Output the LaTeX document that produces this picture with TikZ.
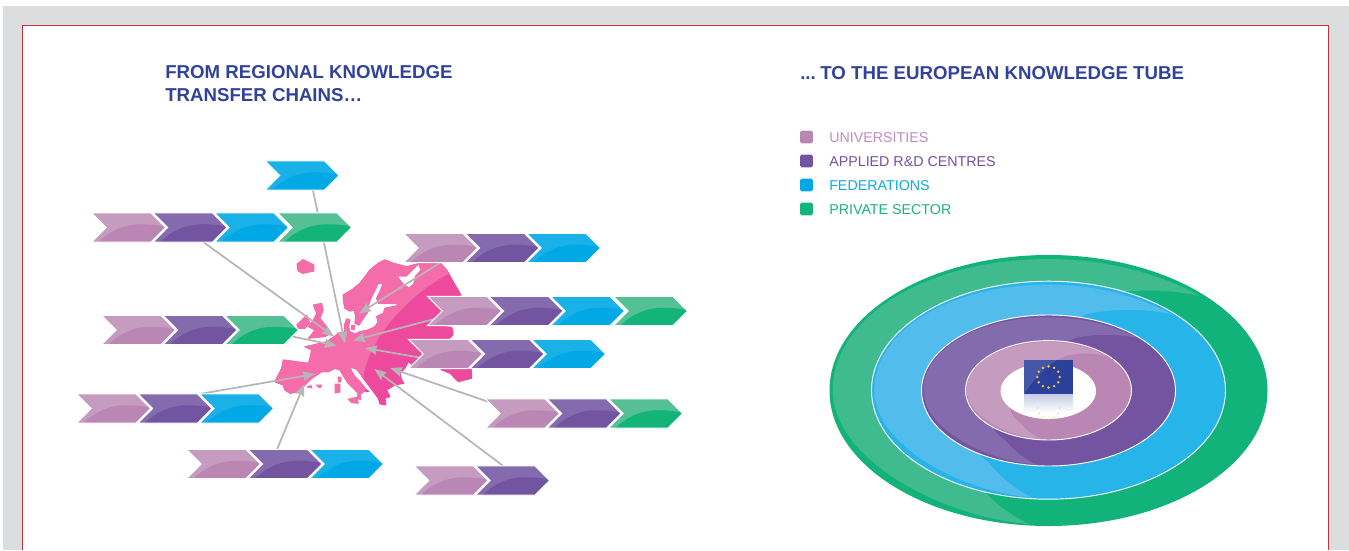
\documentclass[tikz,border=0pt]{standalone}
\usepackage{fontspec}
\setmainfont{Liberation Sans}
\usetikzlibrary{shapes.symbols,shapes.geometric,arrows.meta}
\definecolor{panelgrey}{HTML}{DCDDDF}
\definecolor{framered}{HTML}{C8323F}
\definecolor{titleblue}{HTML}{30429A}
\definecolor{pU}{HTML}{BA86B3}\definecolor{lU}{HTML}{C59CC0}
\definecolor{pA}{HTML}{7254A1}\definecolor{lA}{HTML}{846BAE}
\definecolor{pF}{HTML}{00A8E6}\definecolor{lF}{HTML}{19B1E8}
\definecolor{pP}{HTML}{12B47A}\definecolor{lP}{HTML}{55BF96}
\definecolor{rF}{HTML}{27B4E9}\definecolor{rFl}{HTML}{52BCEC}
\definecolor{rP}{HTML}{12B37B}\definecolor{rPl}{HTML}{40BB90}
\definecolor{mapL}{HTML}{F46CA9}\definecolor{mapD}{HTML}{EE4A9D}
\definecolor{arrowgrey}{HTML}{B6B6B6}
\definecolor{txtU}{HTML}{C08EBC}\definecolor{txtA}{HTML}{7452A0}
\definecolor{txtF}{HTML}{0CABE3}\definecolor{txtP}{HTML}{1CB37F}
\definecolor{flagblue}{HTML}{2B409B}\definecolor{flaglight}{HTML}{4356A7}
\definecolor{flagfade}{HTML}{C9CCE5}
\definecolor{gold}{HTML}{F1C13B}
\pgfdeclarelayer{back}\pgfdeclarelayer{conn}
\pgfsetlayers{back,conn,main}
\tikzset{
  chev/.style n args={2}{signal, signal to=east, signal from=west,
    minimum width=55.5pt, minimum height=21.9pt, inner sep=0pt, outer sep=0pt,
    fill=#2, draw=white, line width=.7pt,
    path picture={
      \coordinate (o) at (path picture bounding box.north west);
      \fill[#1] ([xshift=4pt,yshift=-23pt]o)
        .. controls ([xshift=14pt,yshift=-13pt]o) and ([xshift=25pt,yshift=-8.5pt]o) .. ([xshift=37.5pt,yshift=-8.5pt]o)
        .. controls ([xshift=43.5pt,yshift=-8.5pt]o) and ([xshift=49.5pt,yshift=-9pt]o) .. ([xshift=56pt,yshift=-10.5pt]o)
        -- ([xshift=56pt,yshift=-23pt]o) -- cycle;
    }},
  chevU/.style={chev={pU}{lU}}, chevA/.style={chev={pA}{lA}},
  chevF/.style={chev={pF}{lF}}, chevP/.style={chev={pP}{lP}},
  link/.style={draw=arrowgrey, line width=1.3pt, -{Stealth[length=9pt,width=7pt,inset=1pt]}},
  swatch/.style={rounded corners=1.2pt, minimum size=9.6pt, inner sep=0pt},
  legendtxt/.style={anchor=west, inner sep=0pt, font=\fontsize{10.7}{13}\selectfont},
  heading/.style={anchor=west, inner sep=0pt, align=left, text=titleblue,
    font=\fontsize{14}{17.25}\selectfont\bfseries},
  ringedge/.style={draw=white, line width=.7pt},
  land/.style={fill=#1, draw=#1, line width=.7pt, line join=round}
}
\newcommand{\crescentpath}{(.69,-.70) .. controls (.50,-.76) and (.35,-.74) .. (.22,-.70)
  .. controls (-.35,-.3) and (-.65,.30) .. (-.34,.66)
  .. controls (-.28,.78) and (-.20,.90) .. (-.09,.985)
  .. controls (-.5,.93) and (-.985,.5) .. (-.985,0)
  .. controls (-.985,-.55) and (-.55,-.97) .. (0,-.97)
  .. controls (.25,-.97) and (.5,-.87) .. (.69,-.70) -- cycle}
\newcommand{\ringdisc}[6]{% cx cy rx ry base light
  \fill[#5] (#1,#2) ellipse[x radius=#3, y radius=#4];
  \begin{scope}[shift={(#1,#2)}, xscale=#3, yscale=#4]
    \fill[#6] \crescentpath;
  \end{scope}}
\newcommand{\threechain}[6]{% name x y types
  \node[chev#6] (#1c) at (#2+123+36.5,#3) {};
  \node[chev#5] (#1b) at (#2+61.5+36.5,#3) {};
  \node[chev#4] (#1a) at (#2+36.5,#3) {};}
\newcommand{\mainland}{(343.3,300) -- (343.3,295) -- (351.7,290) -- (360,283.3) -- (365,276.7) -- (370,270) -- (378.3,263.3) -- (385,260) -- (393.3,263.3) -- (406.7,266.7) -- (425,262) -- (440,262.7) -- (446.7,270) -- (453.3,281.7) -- (461,295) -- (445,300) -- (440,326) -- (451.7,327.3) -- (453,331) -- (453,335) -- (450,338) -- (440,342) -- (440,368) -- (441.7,370) -- (450,373.3) -- (458.3,381.7) -- (471.7,378.3) -- (471.7,369) -- (430,367.5) -- (415,367) -- (408.3,361.7) -- (405,368.3) -- (400,373.3) -- (401.7,380) -- (404,383.3) -- (395,385) -- (386.7,390) -- (390,396.7) -- (385,398.3) -- (386,405) -- (380,404) -- (378.3,398.3) -- (373.3,391.7) -- (368.3,385) -- (363.3,378.3) -- (360,373.3) -- (356.7,369.3) -- (350,366.7) -- (351.7,371.7) -- (355,376.7) -- (360,381.7) -- (365,388.3) -- (369,391.7) -- (363.3,391.7) -- (360,395) -- (360.7,399.3) -- (357.3,398.3) -- (358.3,393.3) -- (353.3,388.3) -- (348.3,383.3) -- (345,378.3) -- (340,370) -- (335,368.3) -- (328.3,371.7) -- (321.7,371.7) -- (311.7,378.3) -- (305,385) -- (298.3,391.7) -- (290,393.3) -- (285,390) -- (283.3,385) -- (275,381.7) -- (281.7,368.3) -- (283.3,360) -- (308.3,363.3) -- (310,358.3) -- (311.7,350) -- (305,346.7) -- (313.3,345) -- (326.7,341.7) -- (335,336) -- (338.3,333.3) -- (345,331.7) -- (344.5,325) -- (346.7,319) -- (350,320) -- (348.5,326.7) -- (350,332) -- (355,334) -- (360,331.7) -- (368.3,330) -- (375,326.7) -- (378.3,321.7) -- (376.7,316.7) -- (383.3,313.3) -- (385,308.3) -- (397.7,305.7) -- (396.7,303.3) -- (378.3,303.3) -- (376.7,298.3) -- (380,291.7) -- (383.3,283.3) -- (378.3,283.3) -- (375,290) -- (371.7,296.7) -- (368.3,305) -- (368.3,311) -- (363.3,318.3) -- (359,325) -- (355,323.3) -- (355.7,316.7) -- (354.3,310) -- (350,311) -- (345,308.3) -- cycle}
\begin{document}
\begin{tikzpicture}[x=.75pt,y=-.75pt]
\useasboundingbox (0,0) rectangle (1349,550);
\begin{pgfonlayer}{back}
  \fill[white] (0,0) rectangle (1349,550);
  \fill[panelgrey] (3,6) rectangle (1349,550);
  \fill[white] (22.6,25.6) rectangle (1328.4,550);
  \draw[framered,line width=.9pt] (22.6,550) -- (22.6,25.6) -- (1328.4,25.6) -- (1328.4,550);
  % Europe map: dark base, light part clipped to the left of the curve
  \path[land=mapD] \mainland;
  \begin{scope}
    \clip (448,274) .. controls (410,295) and (370,335) .. (363,378) -- (370,415) -- (260,415) -- (260,250) -- (448,250) -- cycle;
    \path[land=mapL] \mainland;
  \end{scope}
  \fill[white] (398.3,276.7) -- (406.7,276.7) -- (415,268.3) -- (418.3,265) -- (420.3,270) -- (415,275.7) -- (413.3,283.3) -- (409,287.3) -- (403.3,283.3) -- cycle;
  % islands
  \path[land=mapL] (313.3,305) -- (321.7,303.3) -- (323.3,310) -- (320,318.3) -- (326.7,326.7) -- (328.3,335) -- (325,336.7) -- (308.3,338.3) -- (315,330) -- (308.3,326.7) -- (313.3,320) -- (316.7,313.3) -- cycle;
  \path[land=mapL] (296.7,325) -- (306.7,315) -- (310,323.3) -- (305,328.3) -- (298.3,328.3) -- cycle;
  \path[land=mapL] (297,264) -- (303,259.5) -- (314,265) -- (314,271) -- (303,273.5) -- (298,271) -- cycle;
  \path[land=mapL] (335,384) -- (340,384) -- (340,392) -- (335,393) -- cycle;
  \path[land=mapL] (338,377) -- (341,377) -- (341,382) -- (338.5,382) -- cycle;
  \path[land=mapL] (348.3,399.3) -- (356.7,397.3) -- (358.3,403.3) -- (351.7,402.7) -- cycle;
  \path[land=mapL] (307,387) -- (311,385.5) -- (312,388) -- cycle;
  \path[land=mapL] (316,385) -- (322,385) -- (320,388) -- cycle;
  \path[land=mapL] (351,325) -- (354.5,325) -- (354.5,329) -- (351,329) -- cycle;
\end{pgfonlayer}
% headings
\node[heading] (titleL) at (165,84) {FROM REGIONAL KNOWLEDGE\\TRANSFER CHAINS…};
\node[heading] (titleR) at (800,73) {...\kern-1.8pt{} TO THE EUROPEAN KNOWLEDGE TUBE};
% legend
\node[swatch,fill=pU] (sw1) at (806.5,137) {};
\node[swatch,fill=pA] (sw2) at (806.5,161) {};
\node[swatch,fill=pF] (sw3) at (806.5,185) {};
\node[swatch,fill=pP] (sw4) at (806.5,209) {};
\node[legendtxt,text=txtU] (lg1) at (829,137.7) {UNIVERSITIES};
\node[legendtxt,text=txtA] (lg2) at (829,161.7) {APPLIED R\&D CENTRES};
\node[legendtxt,text=txtF] (lg3) at (829,185.7) {FEDERATIONS};
\node[legendtxt,text=txtP] (lg4) at (829,209.7) {PRIVATE SECTOR};
% chains (drawn right to left, each tip lies over its neighbour)
\node[chevF] (A1) at (302,175.5) {};
\node[chevP] (B4) at (314.5,227.5) {};
\threechain{B}{92}{227.5}{U}{A}{F}
\threechain{C}{404}{248}{U}{A}{F}
\node[chevP] (D4) at (650.5,311) {};
\threechain{D}{428}{311}{U}{A}{F}
\threechain{E}{102}{330}{U}{A}{P}
\threechain{F}{409}{354}{U}{A}{F}
\threechain{G}{77}{408.5}{U}{A}{F}
\threechain{H}{486}{413.5}{U}{A}{P}
\threechain{I}{187}{464}{U}{A}{F}
\node[chevA] (Jb) at (512.5,480.5) {};
\node[chevU] (Ja) at (451,480.5) {};
% connectors
\coordinate (t1) at (345,343.5);
\coordinate (t2) at (334,336.5);
\coordinate (t3) at (359,313.5);
\coordinate (t4) at (353,340.5);
\coordinate (t5) at (365,348);
\coordinate (t6) at (390,368);
\coordinate (t7) at (374.3,369);
\coordinate (t8) at (304.3,384);
\coordinate (t9) at (315,374);
\coordinate (t10) at (336.7,345.7);
\begin{pgfonlayer}{conn}
  \draw[link] ([xshift=8pt,yshift=1pt]A1.south) -- (t1);
  \draw[link] ([xshift=10pt]Bb.south) -- (t2);
  \draw[link] (Ca.south) -- (t3);
  \draw[link] (Da.center) -- (t4);
  \draw[link] ([yshift=-6pt]Fa.center) -- (t5);
  \draw[link] (Ha.center) -- (t6);
  \draw[link] ([xshift=-7pt]Jb.north) -- (t7);
  \draw[link] ([xshift=-6pt]Ib.north) -- (t8);
  \draw[link] ([xshift=-27pt,yshift=11pt]Gc.center) -- (t9);
  \draw[link] (Ec.center) -- (t10);
\end{pgfonlayer}
% tube
\ringdisc{1048.5}{390.5}{219}{135.5}{rP}{rPl}
\ringdisc{1048.5}{390.2}{177}{109}{rF}{rFl}
\draw[ringedge] (1048.5,390.2) ellipse[x radius=177, y radius=109];
\ringdisc{1048.5}{390.5}{127}{75.5}{pA}{lA}
\draw[ringedge] (1048.5,390.5) ellipse[x radius=127, y radius=75.5];
\ringdisc{1048.5}{390.3}{83}{49.7}{pU}{lU}
\draw[ringedge] (1048.5,390.3) ellipse[x radius=83, y radius=49.7];
\fill[white] (1048.3,391) ellipse[x radius=47.7, y radius=28];
% flag
\shade[top color=flagfade, bottom color=white] (1024,394) rectangle (1073,413);
\foreach \a in {0,30,60,90,120,150,180}
  \fill[gold!45!white] (1048.5,408)+({\a}:{11 and 10.5}) circle[radius=1.1];
\fill[flagblue] (1024,360) rectangle (1073,394.3);
\fill[flaglight] (1024,360) -- (1057,360) .. controls (1045,368) and (1033,380) .. (1024,394) -- cycle;
\foreach \a in {0,30,...,330}
  \fill[gold] (1048.5,377)+({\a}:{11.3 and 10.6}) circle[radius=1.4];
\end{tikzpicture}
\end{document}
